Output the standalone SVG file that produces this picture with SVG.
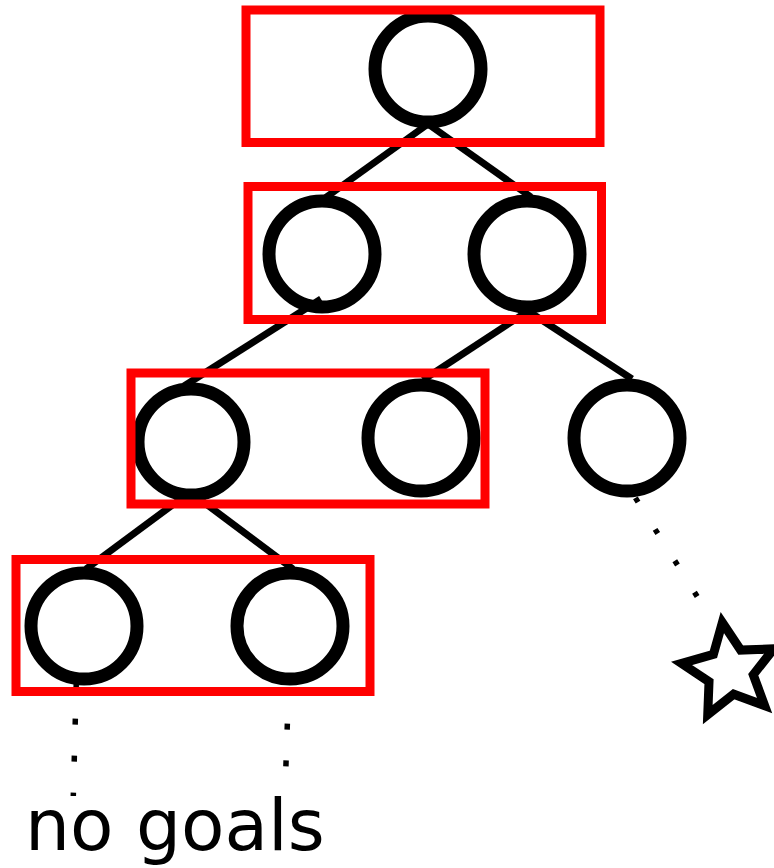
<svg xmlns="http://www.w3.org/2000/svg" width="774" height="868" viewBox="0 0 774 868">
  <style>
    .node { fill: none; stroke: #000; stroke-width: 13; }
    .edge { stroke: #000; stroke-width: 7; stroke-linecap: butt; fill: none; }
    .dots { stroke: #000; stroke-width: 5.5; fill: none; }
    .level { fill: none; stroke: #ff0000; stroke-width: 9; }
    .label { font-family: "DejaVu Sans", "Liberation Sans", sans-serif; font-size: 71px; fill: #000; }
  </style>
  <rect width="774" height="868" fill="#fff"/>

  <!-- tree nodes -->
  <g id="n0"><circle class="node" cx="428" cy="69" r="53"/></g>
  <g id="n1"><circle class="node" cx="322" cy="254" r="53"/></g>
  <g id="n2"><circle class="node" cx="527" cy="254" r="53"/></g>
  <g id="n3"><circle class="node" cx="191" cy="442" r="53"/></g>
  <g id="n4"><circle class="node" cx="421" cy="438" r="53"/></g>
  <g id="n5"><circle class="node" cx="627" cy="438" r="53"/></g>
  <g id="n6"><circle class="node" cx="84" cy="626" r="53"/></g>
  <g id="n7"><circle class="node" cx="290" cy="626" r="53"/></g>

  <!-- edges and dotted continuations -->
  <g id="connectors">
    <line class="edge" x1="428" y1="124" x2="325" y2="198"/>
    <line class="edge" x1="428" y1="124" x2="531" y2="197"/>
    <line class="edge" x1="321" y1="299" x2="184" y2="386"/>
    <line class="edge" x1="528" y1="311" x2="423" y2="380"/>
    <line class="edge" x1="528" y1="311" x2="632" y2="379"/>
    <line class="edge" x1="190" y1="492" x2="86" y2="569"/>
    <line class="edge" x1="190" y1="492" x2="293" y2="569"/>
    <line class="dots" x1="635.4" y1="497.9" x2="697.2" y2="596.5" stroke-dasharray="5 32.1"/>
    <line class="dots" x1="76.3" y1="681.7" x2="73.3" y2="796" stroke-dasharray="6 31"/>
    <line class="dots" x1="288.6" y1="687" x2="285.9" y2="766.3" stroke-dasharray="6 30.7"/>
  </g>

  <!-- level frames -->
  <g id="levels">
    <rect class="level" x="246" y="10" width="354" height="132.5"/>
    <rect class="level" x="248" y="186.5" width="353.5" height="133"/>
    <rect class="level" x="131" y="373" width="354" height="131"/>
    <rect class="level" x="16" y="559.5" width="354" height="132"/>
  </g>

  <!-- goal marker -->
  <g id="goal">
    <polygon fill="#fff" stroke="#000" stroke-width="9" stroke-linejoin="miter"
      transform="translate(730 671) rotate(-99)"
      points="49,0 19.0,13.8 15.1,46.6 -7.3,22.4 -39.6,28.8 -23.5,0 -39.6,-28.8 -7.3,-22.4 15.1,-46.6 19.0,-13.8"/>
  </g>

  <text class="label" x="25" y="850">no goals</text>
</svg>
